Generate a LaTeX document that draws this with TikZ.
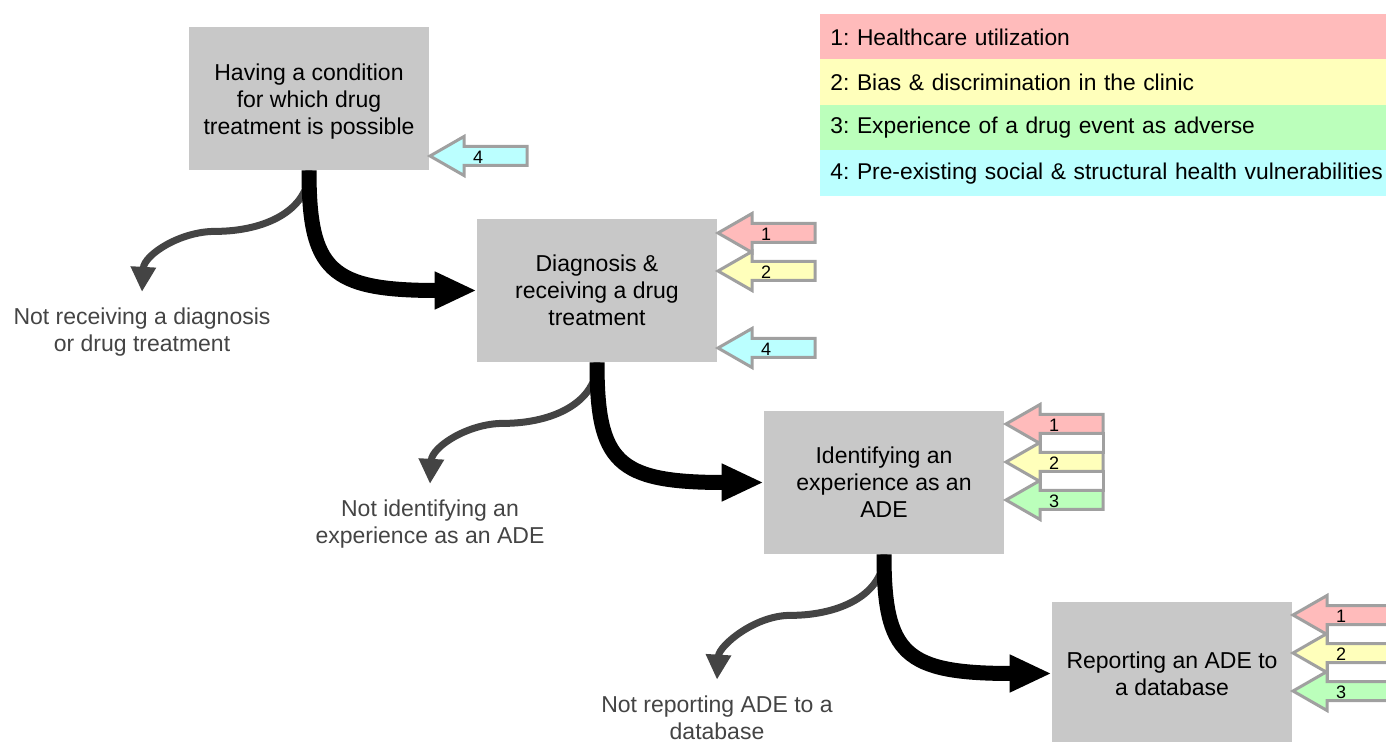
\documentclass[tikz,border=0pt]{standalone}
\usepackage{fontspec}
\setmainfont{Liberation Sans}
\usetikzlibrary{arrows.meta,calc}
\frenchspacing

\definecolor{boxgray}{HTML}{C8C8C8}
\definecolor{branchgray}{HTML}{444444}
\definecolor{edgegray}{HTML}{A0A0A0}
\definecolor{utilred}{HTML}{FFBBBB}
\definecolor{biasyellow}{HTML}{FFFFBB}
\definecolor{eventgreen}{HTML}{BBFFBB}
\definecolor{vulncyan}{HTML}{BBFFFF}

\tikzset{
    stage/.style={rectangle, fill=boxgray, minimum width=120pt, minimum height=71.5pt,
        inner sep=0pt, align=center, font=\fontsize{11.5}{13.5}\selectfont},
    dropout/.style={align=center, inner sep=8pt, text=branchgray,
        font=\fontsize{11.5}{13.5}\selectfont},
    legendrow/.style={rectangle, anchor=west, minimum width=290pt, minimum height=23pt,
        text width=280pt, inner xsep=5pt, align=left, font=\fontsize{11.4}{13.5}\selectfont},
    flow/.style={draw=black, line width=7.5pt, -{Triangle[length=21pt,width=17.5pt]}},
    leak/.style={draw=branchgray, line width=3.5pt, -{Triangle[length=12.5pt,width=12pt]}},
    factor/.style={draw=edgegray, line width=1.5pt},
    factorlabel/.style={inner sep=0pt, font=\fontsize{9}{10}\selectfont}
}

% arrow of a contributing factor: name, tip x, tip y, colour, number
\newcommand{\factorarrow}[5]{%
    \draw[factor, fill=#4] (#2,#3) -- ++(34,-19.5) -- ++(0,10) -- ++(63,0) -- ++(0,19)
        -- ++(-63,0) -- ++(0,10) -- cycle;
    \node[factorlabel] (#1) at (#2+48,#3+1) {#5};
}
% white filler between two stacked factor arrows
\newcommand{\factorgap}[2]{%
    \draw[factor, fill=white] (#1+34,#2+9.5) rectangle (#1+97,#2+28.5);
}

\begin{document}
\begin{tikzpicture}[x=0.5pt, y=-0.5pt]
    \useasboundingbox (0,0) rectangle (1386,742);

    \begin{scope}[every node/.style={stage}]
        \node (cond) at (309,98.5) {\strut Having a condition\\for which drug\\\smash{treatment is possible}};
        \node (diag) at (597,290.5) {Diagnosis \&\\receiving a drug\\treatment};
        \node (ident) at (884,482.5) {Identifying an\\experience as an\\ADE};
        \node (report) at (1172,673.5) {Reporting an ADE to\\a database};
    \end{scope}

    \begin{scope}[every node/.style={dropout}]
        \node (notdiag) at (142,332.5) {Not receiving a diagnosis\\or drug treatment};
        \node (notident) at (430,524.5) {Not identifying an\\experience as an ADE};
        \node (notreport) at (717,718) {Not reporting ADE to a\\database};
    \end{scope}

    % legend
    \node[legendrow, fill=utilred] (leg1) at (820,37) {1: Healthcare utilization};
    \node[legendrow, fill=biasyellow] (leg2) at (820,82.5) {2: Bias \& discrimination in the clinic};
    \node[legendrow, fill=eventgreen] (leg3) at (820,128) {3: Experience of a drug event as adverse};
    \node[legendrow, fill=vulncyan] (leg4) at (820,173.5) {4: Pre-existing social \& structural health vulnerabilities};

    % branches that drop out
    \coordinate (bend1) at ($(cond.south)+(-94,61)$);
    \coordinate (bend2) at ($(diag.south)+(-94,61)$);
    \coordinate (bend3) at ($(ident.south)+(-94,61)$);
    \draw[leak] (cond.south) .. controls +(0,40) and +(50,0) .. (bend1)
        .. controls +(-35,0) and +(2,-37) .. (notdiag.north);
    \draw[leak] (diag.south) .. controls +(0,40) and +(50,0) .. (bend2)
        .. controls +(-35,0) and +(2,-37) .. (notident.north);
    \draw[leak] (ident.south) .. controls +(0,40) and +(50,0) .. (bend3)
        .. controls +(-35,0) and +(2,-34) .. (notreport.north);

    % main path
    \draw[flow] (cond.south) .. controls +(0,100) and +(-147,0) .. (diag.west);
    \draw[flow] (diag.south) .. controls +(0,100) and +(-147,0) .. (ident.west);
    \draw[flow] (ident.south) .. controls +(0,100) and +(-147,0) .. (report.west);

    % factors acting on each step
    \factorarrow{cond4}{430}{156}{vulncyan}{4}

    \factorarrow{diag1}{718}{233}{utilred}{1}
    \factorarrow{diag2}{718}{271}{biasyellow}{2}
    \factorarrow{diag4}{718}{348}{vulncyan}{4}

    \factorgap{1006}{424}
    \factorgap{1006}{462}
    \factorarrow{ident1}{1006}{424}{utilred}{1}
    \factorarrow{ident2}{1006}{462}{biasyellow}{2}
    \factorarrow{ident3}{1006}{500}{eventgreen}{3}

    \factorgap{1293}{615}
    \factorgap{1293}{653}
    \factorarrow{report1}{1293}{615}{utilred}{1}
    \factorarrow{report2}{1293}{653}{biasyellow}{2}
    \factorarrow{report3}{1293}{691}{eventgreen}{3}
\end{tikzpicture}
\end{document}
